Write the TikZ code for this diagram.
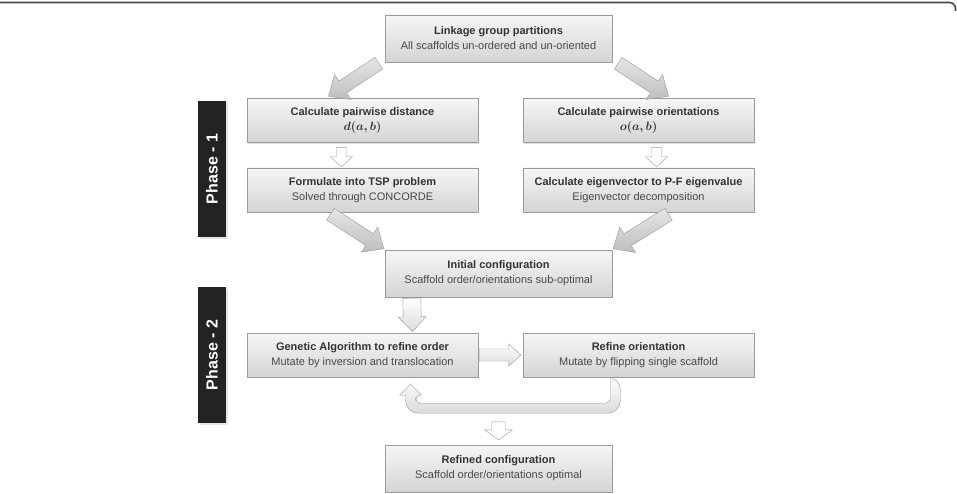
\documentclass[tikz,border=0pt]{standalone}
\usepackage{fontspec}
\setsansfont{Liberation Sans}
\usetikzlibrary{calc,shadows}

\definecolor{boxline}{HTML}{9A9A9A}
\definecolor{boxtop}{HTML}{F6F6F6}
\definecolor{boxbot}{HTML}{D4D4D4}
\definecolor{arrtop}{HTML}{E6E6E6}
\definecolor{arrbot}{HTML}{BEBEBE}
\definecolor{txtdark}{HTML}{333333}
\definecolor{txtsub}{HTML}{484848}
\definecolor{barfill}{HTML}{232323}
\definecolor{frameline}{HTML}{474747}

% block arrow: [style]{from}{to}{half shaft}{half head}{head length}
\newcommand\blockarrow[6][]{%
  \coordinate (ba-h) at ($(#3)!#6!(#2)$);
  \draw[#1] ($(#2)!#4!90:(#3)$) -- ($(ba-h)!#4!90:(#3)$) -- ($(ba-h)!#5!90:(#3)$)
    -- (#3) -- ($(ba-h)!#5!-90:(#3)$) -- ($(ba-h)!#4!-90:(#3)$) -- ($(#2)!#4!-90:(#3)$) -- cycle;}
\newcommand\pairfn[1]{{\fontsize{12.5}{15}\selectfont\boldmath$#1(a,b)$}}

\begin{document}
\begin{tikzpicture}[x=1pt,y=-1pt,font=\sffamily,
  stepbox/.style={draw=boxline,top color=boxtop,bottom color=boxbot,
    minimum width=231pt,minimum height=44pt,inner sep=2pt,align=center,text=txtdark,
    font=\sffamily\fontsize{11}{15}\selectfont,
    drop shadow={shadow xshift=1.2pt,shadow yshift=-1.2pt,opacity=0.25}},
  midbox/.style={stepbox,minimum width=227pt,minimum height=47pt},
  phasebar/.style={fill=barfill,text=white,rotate=90,inner sep=0pt,
    minimum width=136pt,minimum height=28pt,
    font=\sffamily\bfseries\fontsize{16}{16}\selectfont,
    drop shadow={shadow xshift=1.5pt,shadow yshift=-1.5pt,opacity=0.2}},
  fat/.style={draw=boxline,top color=arrtop,bottom color=arrbot},
  pale/.style={draw=boxline,top color=white,bottom color=black!14},
  hollow/.style={draw=boxline,fill=white}]
 \useasboundingbox (0,0) rectangle (957,494);
 % frame
 \draw[frameline,line width=1.6pt,rounded corners=6pt] (0,2.5) -- (955.5,2.5) -- (955.5,11);
 % phase bars
 \node[phasebar] (ph1) at (212,169) {Phase - 1};
 \node[phasebar] (ph2) at (212,355) {Phase - 2};
 % boxes
 \node[midbox] (link) at (498.5,38.5) {\textbf{Linkage group partitions}\\{\color{txtsub}All scaffolds un-ordered and un-oriented}};
 \node[stepbox] (dist) at (362.5,120.5) {\textbf{Calculate pairwise distance}\\\pairfn{d}};
 \node[stepbox] (orient) at (638.5,120.5) {\textbf{Calculate pairwise orientations}\\\pairfn{o}};
 \node[stepbox] (tsp) at (362.5,190) {\textbf{Formulate into TSP problem}\\{\color{txtsub}Solved through CONCORDE}};
 \node[stepbox] (eig) at (638.5,190) {\textbf{Calculate eigenvector to P-F eigenvalue}\\{\color{txtsub}Eigenvector decomposition}};
 \node[midbox] (init) at (498.5,273.5) {\textbf{Initial configuration}\\{\color{txtsub}Scaffold order/orientations sub-optimal}};
 \node[stepbox] (ga) at (362.5,355) {\textbf{Genetic Algorithm to refine order}\\{\color{txtsub}Mutate by inversion and translocation}};
 \node[stepbox] (refo) at (638.5,355) {\textbf{Refine orientation}\\{\color{txtsub}Mutate by flipping single scaffold}};
 \node[midbox] (fin) at (498.5,468.5) {\textbf{Refined configuration}\\{\color{txtsub}Scaffold order/orientations optimal}};
 % diagonal arrows
 \blockarrow[fat]{$(link.south west)+(-6,1)$}{$(dist.north)+(-34,-2)$}{7pt}{15pt}{17pt}
 \blockarrow[fat]{$(link.south east)+(6,1)$}{$(orient.north)+(30,-2)$}{7pt}{15pt}{17pt}
 \blockarrow[fat]{$(tsp.south)+(-32,2)$}{$(init.north west)+(-1,-1)$}{7pt}{15pt}{17pt}
 \blockarrow[fat]{$(eig.south)+(30,2)$}{$(init.north east)+(1,-1)$}{7pt}{15pt}{17pt}
 % straight arrows
 \blockarrow[hollow]{$(dist.south)+(-21,5)$}{$(tsp.north)+(-21,-1)$}{5pt}{11pt}{10pt}
 \blockarrow[hollow]{$(orient.south)+(18,5)$}{$(eig.north)+(18,-1)$}{5pt}{11pt}{10pt}
 \blockarrow[pale]{$(init.south west)+(27,1)$}{$(ga.north)+(50,-1)$}{9pt}{14pt}{15pt}
 \blockarrow[pale]{$(ga.east)+(1,0)$}{$(refo.west)+(-2,0)$}{6pt}{11pt}{12pt}
 % loop back
 \coordinate (lpa) at ($(refo.south)+(-23,0)$);
 \coordinate (lpb) at ($(ga.south)+(48,0)$);
 \draw[pale] ($(lpa)+(-5,0)$) [rounded corners=5pt] -- ($(lpa)+(-5,26)$) -- ($(lpb)+(5,26)$)
   -- ($(lpb)+(5,18)$) [sharp corners] -- ($(lpb)+(11,18)$) -- ($(lpb)+(0,7)$) -- ($(lpb)+(-11,18)$)
   -- ($(lpb)+(-5,18)$) [rounded corners=13pt] -- ($(lpb)+(-5,36)$) -- ($(lpa)+(5,36)$)
   -- ($(lpa)+(5,0)$) [sharp corners] -- cycle;
 \blockarrow[hollow]{$(fin.north)+(0,-23)$}{$(fin.north)+(0,-5)$}{7pt}{14pt}{10pt}
\end{tikzpicture}
\end{document}
